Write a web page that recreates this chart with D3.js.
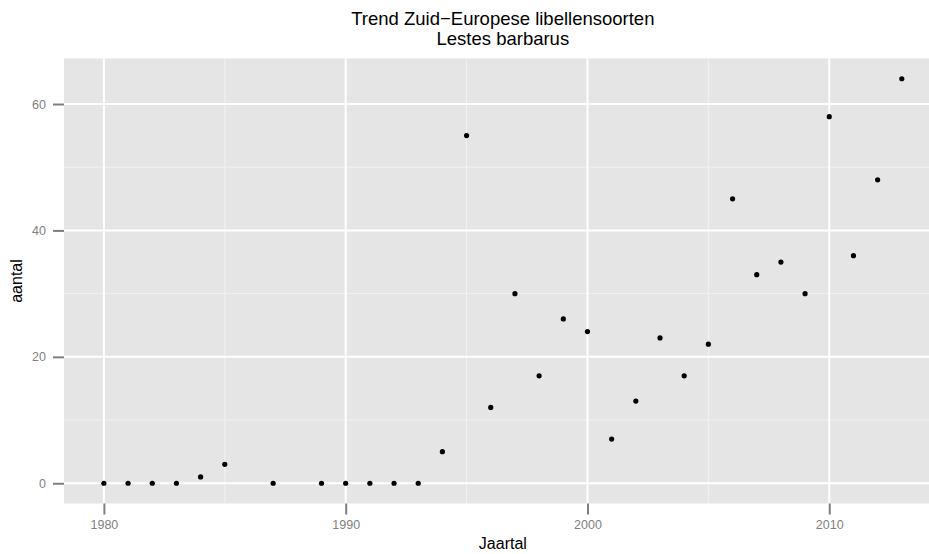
<!DOCTYPE html>
<html>
<head>
<meta charset="utf-8">
<script src="https://cdn.jsdelivr.net/npm/d3@7"></script>
<style>
  html, body { margin: 0; padding: 0; background: #fff; }
  svg { display: block; font-family: "Liberation Sans", Arial, sans-serif; }
</style>
</head>
<body>
<svg id="chart" width="929" height="554"></svg>
<script>
// Yearly counts of Lestes barbarus
const years  = [1980, 1981, 1982, 1983, 1984, 1985, 1987, 1989, 1990, 1991, 1992, 1993, 1994, 1995, 1996, 1997, 1998, 1999, 2000, 2001, 2002, 2003, 2004, 2005, 2006, 2007, 2008, 2009, 2010, 2011, 2012, 2013];
const counts = [0, 0, 0, 0, 1, 3, 0, 0, 0, 0, 0, 0, 5, 55, 12, 30, 17, 26, 24, 7, 13, 23, 17, 22, 45, 33, 35, 30, 58, 36, 48, 64];
const xTicks = [1980, 1990, 2000, 2010];
const xMinor = [1985, 1995, 2005];
const yTicks = [0, 20, 40, 60];
const yMinor = [10, 30, 50];
const titleLines = ["Trend Zuid\u2212Europese libellensoorten", "Lestes barbarus"];
const xTitle = "Jaartal";
const yTitle = "aantal";

const svg = d3.select("#chart");
const panel = { left: 64, right: 941.7, top: 58.5, bottom: 503.5 };

// ggplot-style 5% expansion of the data range
const xExt = d3.extent(years), yExt = [0, d3.max(counts)];
const xPad = (xExt[1] - xExt[0]) * 0.05, yPad = (yExt[1] - yExt[0]) * 0.05;
const x = d3.scaleLinear().domain([xExt[0] - xPad, xExt[1] + xPad]).range([panel.left, panel.right]);
const y = d3.scaleLinear().domain([yExt[0] - yPad, yExt[1] + yPad]).range([panel.bottom, panel.top]);

// panel background
svg.append("rect")
  .attr("x", panel.left).attr("y", panel.top)
  .attr("width", panel.right - panel.left).attr("height", panel.bottom - panel.top)
  .attr("fill", "#e5e5e5");

const grid = svg.append("g");
// minor grid
grid.selectAll(".vminor").data(xMinor).join("line")
  .attr("x1", d => x(d)).attr("x2", d => x(d))
  .attr("y1", panel.top).attr("y2", panel.bottom)
  .attr("stroke", "#f2f2f2").attr("stroke-width", 1);
grid.selectAll(".hminor").data(yMinor).join("line")
  .attr("x1", panel.left).attr("x2", panel.right)
  .attr("y1", d => y(d)).attr("y2", d => y(d))
  .attr("stroke", "#f2f2f2").attr("stroke-width", 1);
// major grid
grid.selectAll(".vmajor").data(xTicks).join("line")
  .attr("x1", d => x(d)).attr("x2", d => x(d))
  .attr("y1", panel.top).attr("y2", panel.bottom)
  .attr("stroke", "#ffffff").attr("stroke-width", 2);
grid.selectAll(".hmajor").data(yTicks).join("line")
  .attr("x1", panel.left).attr("x2", panel.right)
  .attr("y1", d => y(d)).attr("y2", d => y(d))
  .attr("stroke", "#ffffff").attr("stroke-width", 2);

// axes
const xAxis = svg.append("g")
  .attr("transform", `translate(0,${panel.bottom})`)
  .call(d3.axisBottom(x).tickValues(xTicks).tickFormat(d3.format("d")).tickSize(11).tickPadding(6));
const yAxis = svg.append("g")
  .attr("transform", `translate(${panel.left},0)`)
  .call(d3.axisLeft(y).tickValues(yTicks).tickSize(11).tickPadding(7));
[xAxis, yAxis].forEach(a => {
  a.select(".domain").remove();
  a.selectAll(".tick line").attr("stroke", "#7f7f7f").attr("stroke-width", 2);
  a.selectAll(".tick text").attr("fill", "#7f7f7f").attr("font-size", 12.5)
    .attr("font-family", "Liberation Sans, Arial, sans-serif");
});

// points
svg.append("g").selectAll("circle")
  .data(years.map((yr, i) => ({ yr, n: counts[i] })))
  .join("circle")
  .attr("cx", d => x(d.yr)).attr("cy", d => y(d.n))
  .attr("r", 2.6).attr("fill", "#000");

// titles
const cx = (panel.left + panel.right) / 2;
svg.append("text").attr("x", cx).attr("y", 24.5).attr("text-anchor", "middle")
  .attr("font-size", 18.5).text(titleLines[0]);
svg.append("text").attr("x", cx).attr("y", 44.5).attr("text-anchor", "middle")
  .attr("font-size", 18.5).text(titleLines[1]);
svg.append("text").attr("x", cx).attr("y", 549).attr("text-anchor", "middle")
  .attr("font-size", 16).text(xTitle);
svg.append("text")
  .attr("transform", `translate(22,${(panel.top + panel.bottom) / 2}) rotate(-90)`)
  .attr("text-anchor", "middle").attr("font-size", 16).text(yTitle);
</script>
</body>
</html>
